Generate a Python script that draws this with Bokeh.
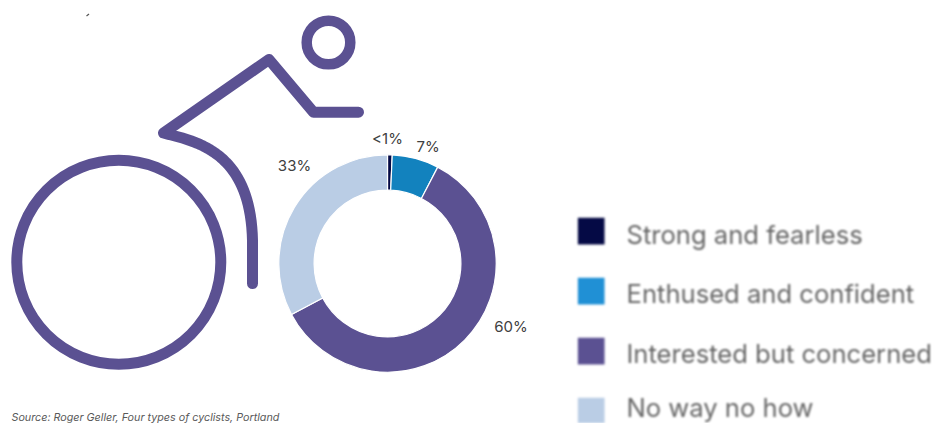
import numpy as np
from bokeh.core.properties import value
from bokeh.embed import file_html
from bokeh.layouts import row
from bokeh.models import ColumnDataSource, Range1d
from bokeh.plotting import figure
from bokeh.resources import INLINE

# Share of cyclists by type
categories = ["Strong and fearless", "Enthused and confident",
              "Interested but concerned", "No way no how"]
shares = [0.7, 7, 60, 33]
share_labels = ["<1%", "7%", "60%", "33%"]
slice_colors = ["#050A45", "#1282BE", "#5B5192", "#BACDE5"]
legend_colors = ["#050A45", "#2090D5", "#5B5192", "#BACDE5"]
source_note = "Source: Roger Geller, Four types of cyclists, Portland"

PAGE_H = 423
SPLIT = 560
PURPLE = "#5B5192"
FONT = "Inter"


def up(y):
    """Convert a downward page offset to the upward y scale."""
    return PAGE_H - np.asarray(y, dtype=float)


def bezier(p0, p1, p2, p3, n=40):
    t = np.linspace(0, 1, n)[:, None]
    pts = [np.array(q, dtype=float) for q in (p0, p1, p2, p3)]
    return (1-t)**3*pts[0] + 3*(1-t)**2*t*pts[1] + 3*(1-t)*t**2*pts[2] + t**3*pts[3]


def canvas(width, x0, x1):
    f = figure(width=width, height=PAGE_H, x_range=Range1d(x0, x1),
               y_range=Range1d(0, PAGE_H), output_backend="svg",
               toolbar_location=None, min_border=0, outline_line_color=None,
               background_fill_color="white", border_fill_color="white")
    f.axis.visible = False
    f.grid.visible = False
    return f


p = canvas(SPLIT, 0, SPLIT)

# Cyclist pictogram: wheel, head, arm and torso
p.circle(x=[118.3], y=up([261.8]), radius=102, fill_color=None,
         line_color=PURPLE, line_width=11)
p.circle(x=[328], y=up([42]), radius=21.8, fill_color=None,
         line_color=PURPLE, line_width=10.5)
curve_a = bezier((163, 132.5), (195, 141), (250, 150), (252, 240))
body_x = [358, 313, 268.5] + list(curve_a[:, 0]) + [252]
body_y = [111.7, 111.7, 59] + list(curve_a[:, 1]) + [283]
p.line(body_x, up(body_y), line_color=PURPLE, line_width=11,
       line_join="round", line_cap="round")

# Stray descender left over at the top of the panel
p.line([86, 88.5], up([15.5, 13.5]), line_color="#555555", line_width=1.2)

# Donut, clockwise from twelve o'clock
fractions = np.array(shares) / sum(shares)
ends = np.cumsum(fractions)
starts = ends - fractions
donut = ColumnDataSource(dict(
    start=np.pi/2 - 2*np.pi*ends,
    end=np.pi/2 - 2*np.pi*starts,
    color=slice_colors,
))
p.annular_wedge(x=387, y=float(up(263)), inner_radius=73.4, outer_radius=108.7,
                start_angle="start", end_angle="end", source=donut,
                fill_color="color", line_color="white", line_width=1.2)

label_x = [387, 427.5, 510.5, 294]
label_y = [138, 145.5, 325.5, 165]
p.text(x=label_x, y=up(label_y), text=share_labels, text_align="center",
       text_baseline="middle", text_font=value(FONT), text_font_size="15px",
       text_color="#404040")

p.text(x=[11], y=up([416.5]), text=[source_note], text_align="left",
       text_baseline="middle", text_font=value(FONT), text_font_style="italic",
       text_font_size="10.75px", text_color="#595959")

# Legend panel, softened like a scaled-up image
legend = canvas(939 - SPLIT, SPLIT, 939)
swatch_top = [217.3, 277.3, 337.3, 397.3]
text_mid = [234, 293, 352.5, 407]
legend.rect(x=[590.7]*4, y=up(swatch_top) - 13.35, width=26.7, height=26.7,
            fill_color=legend_colors, line_color=None)
legend.text(x=[626]*4, y=up(text_mid), text=categories, text_align="left",
            text_baseline="middle", text_font=value(FONT),
            text_font_size="25.6px", text_color="#666666")
legend.styles = {"filter": "blur(0.8px)"}

page = row(p, legend, spacing=0)
open("out.html", "w").write(file_html(page, INLINE))
